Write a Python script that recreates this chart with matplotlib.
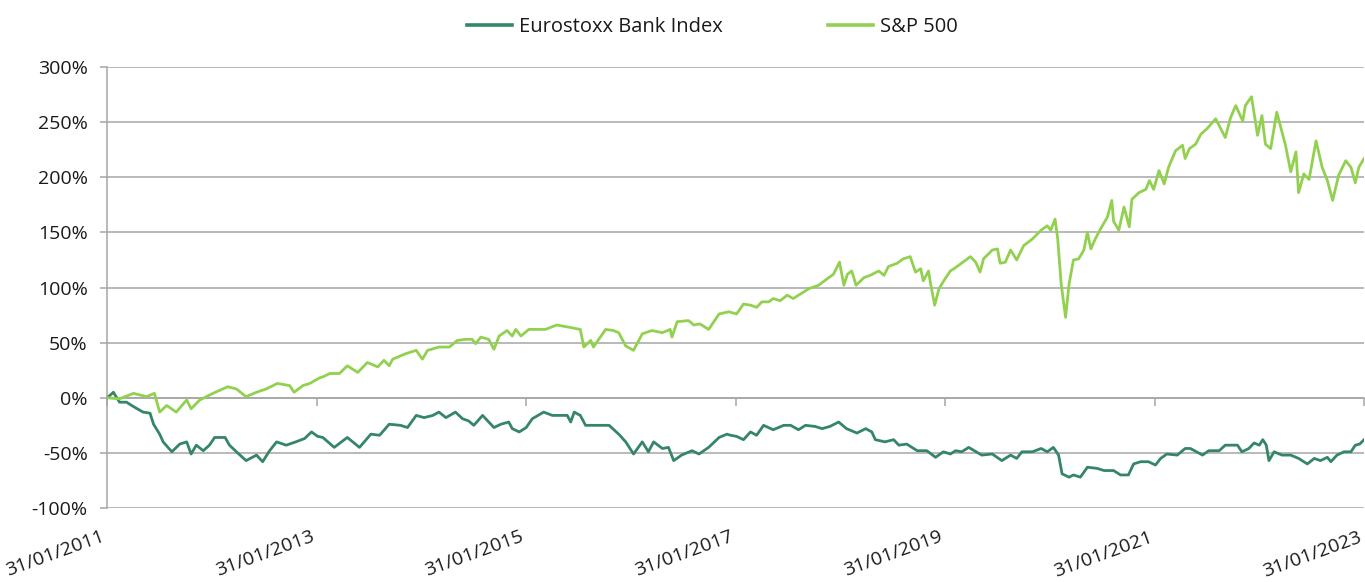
import numpy as np
import pandas as pd
import matplotlib
matplotlib.use("Agg")
import matplotlib.pyplot as plt
import matplotlib.dates as mdates
from matplotlib.transforms import blended_transform_factory

# ---------------- data ----------------
START = "2011-01-31"
END = "2023-01-31"
tick_dates = ["2011-01-31", "2013-01-31", "2015-01-31", "2017-01-31",
              "2019-01-31", "2021-01-31", "2023-01-31"]
tick_labels = ["31/01/2011", "31/01/2013", "31/01/2015", "31/01/2017",
               "31/01/2019", "31/01/2021", "31/01/2023"]
y_ticks = [-100, -50, 0, 50, 100, 150, 200, 250, 300]

series_names = ["Eurostoxx Bank Index", "S&P 500"]

# months elapsed since 31/01/2011 and cumulative return in %
euro_months = [0, 0.7, 1.4, 2.2, 3.0, 4.1, 4.9, 5.3, 6.0, 6.4, 7.4, 8.3, 9.1, 9.6,
               10.2, 11.0, 11.7, 12.3, 13.5, 14.0, 14.8, 15.9, 17.1, 17.8, 18.6,
               19.4, 20.5, 21.6, 22.6, 23.4, 24.1, 24.7, 26.0, 27.5, 28.9, 30.2,
               31.2, 32.3, 33.6, 34.4, 35.4, 36.3, 37.3, 38.0, 38.8, 39.9, 40.7,
               41.4, 42.0, 43.0, 44.3, 45.1, 46.0, 46.4, 47.2, 48.0, 48.7, 50.0,
               51.0, 52.7, 53.1, 53.5, 54.2, 54.8, 55.9, 57.5, 58.6, 59.4, 60.3,
               61.3, 62.0, 62.6, 63.6, 64.3, 64.9, 65.8, 67.0, 67.8, 68.9, 70.1,
               71.0, 71.4, 72.1, 72.9, 73.7, 74.4, 75.2, 76.3, 77.5, 78.3, 79.2,
               80.0, 81.1, 81.9, 82.8, 83.8, 84.7, 85.9, 86.9, 87.6, 88.0, 89.1,
               90.1, 90.7, 91.6, 92.8, 93.9, 94.9, 95.8, 96.6, 97.2, 97.9, 98.7,
               100.2, 101.4, 102.5, 103.5, 104.2, 104.8, 106.0, 107.0, 107.7,
               108.4, 109.0, 109.4, 110.2, 110.7, 111.5, 112.3, 113.4, 114.2,
               115.3, 116.1, 117.0, 117.6, 118.4, 119.3, 120.1, 120.7, 121.4,
               122.6, 123.5, 124.1, 125.5, 126.2, 127.4, 128.1, 129.5, 130.0,
               130.8, 131.4, 132.0, 132.4, 132.8, 133.1, 133.7, 134.6, 135.6,
               136.5, 137.5, 138.3, 139.0, 139.8, 140.2, 140.9, 141.7, 142.5,
               143.0, 143.5, 144.0]
euro_values = [0, 5, -4, -4, -8, -13, -14, -24, -33, -40, -49, -42, -40, -51,
               -43, -48, -43, -36, -36, -43, -49, -57, -52, -58, -48,
               -40, -43, -40, -37, -31, -35, -36, -45, -36, -45, -33,
               -34, -24, -25, -27, -16, -18, -16, -13, -18, -13, -19,
               -21, -25, -16, -27, -24, -22, -28, -31, -27, -19, -13,
               -16, -16, -22, -13, -16, -25, -25, -25, -33, -40, -51,
               -40, -49, -40, -46, -45, -57, -52, -48, -51, -45, -36,
               -33, -34, -35, -38, -31, -34, -25, -29, -25, -25, -29,
               -25, -26, -28, -26, -22, -28, -32, -28, -31, -38, -40,
               -38, -43, -42, -48, -48, -54, -49, -51, -48, -49, -45,
               -52, -51, -57, -52, -55, -49, -49, -46, -49,
               -45, -52, -69, -72, -70, -72, -63, -64, -66,
               -66, -70, -70, -60, -58, -58, -61, -55, -51,
               -52, -46, -46, -52, -48, -48, -43, -43, -49,
               -46, -41, -43, -38, -43, -57, -49, -52, -52,
               -55, -60, -55, -57, -54, -58, -52, -49, -49,
               -43, -42, -38]

sp_months = [0, 1.4, 3.0, 4.5, 5.4, 6.0, 6.8, 7.9, 9.1, 9.6, 10.6, 12.1, 13.8,
             14.8, 15.9, 17.1, 18.2, 19.5, 20.9, 21.4, 22.4, 23.2, 24.3, 24.7,
             25.5, 26.6, 27.5, 28.7, 29.8, 31.0, 31.7, 32.3, 32.7, 34.2, 35.4,
             36.1, 36.7, 38.0, 39.2, 40.1, 41.1, 41.8, 42.2, 42.8, 43.7, 44.3,
             44.9, 45.8, 46.4, 46.8, 47.4, 48.3, 48.7, 50.2, 51.5, 52.9, 54.2,
             54.6, 55.4, 55.7, 57.1, 58.0, 58.6, 59.4, 60.3, 61.3, 62.4, 63.6,
             64.5, 64.7, 65.3, 66.6, 67.2, 67.9, 68.9, 70.1, 71.2, 72.1, 72.9,
             73.7, 74.4, 75.0, 75.8, 76.3, 77.1, 77.9, 78.6, 79.4, 80.4, 81.5,
             82.5, 83.2, 83.9, 84.4, 84.8, 85.3, 85.8, 86.7, 87.4, 88.4, 89.0,
             89.5, 90.5, 91.2, 92.0, 92.6, 93.2, 93.5, 94.1, 94.3, 94.8, 95.3,
             96.0, 96.6, 97.0, 97.7, 98.9, 99.5, 100.0, 100.4, 101.4, 102.0,
             102.3, 102.9, 103.5, 104.2, 105.0, 106.0, 107.0, 107.7, 108.1,
             108.6, 108.9, 109.3, 109.8, 110.2, 110.7, 111.3, 111.9, 112.3,
             112.7, 113.2, 113.8, 114.6, 115.1, 115.3, 115.9, 116.5, 117.1,
             117.4, 118.2, 119.0, 119.4, 119.9, 120.5, 121.1, 121.6, 122.4,
             123.2, 123.5, 124.0, 124.7, 125.3, 126.0, 127.0, 128.1, 128.7,
             129.3, 130.1, 130.4, 131.1, 131.8, 132.3, 132.7, 133.3, 134.0,
             134.4, 135.0, 135.6, 136.2, 136.5, 137.1, 137.7, 138.5, 139.2,
             139.8, 140.4, 141.1, 141.9, 142.5, 143.0, 143.4, 144.0]
sp_values = [0, -1, 4, 1, 4, -13, -7, -13, -2, -10, -2, 4, 10,
             8, 1, 5, 8, 13, 11, 5, 11, 13, 18, 19,
             22, 22, 29, 23, 32, 28, 34, 29, 35, 40, 43,
             35, 43, 46, 46, 52, 53, 53, 49, 55, 53, 44,
             56, 61, 56, 62, 56, 62, 62, 62, 66, 64, 62,
             46, 52, 46, 62, 61, 59, 47, 43, 58, 61, 59,
             62, 55, 69, 70, 66, 67, 62, 76, 78, 76, 85,
             84, 82, 87, 87, 90, 88, 93, 90, 94, 99, 102,
             108, 112, 123, 102, 112, 115, 102, 109, 111, 115, 111,
             119, 122, 126, 128, 114, 117, 106, 115, 105, 84, 99,
             108, 115, 117, 121, 128, 123, 114, 126, 134, 135,
             122, 123, 134, 125, 138, 144, 152, 156, 152,
             162, 144, 103, 73, 103, 125, 126, 134, 150,
             135, 144, 153, 164, 179, 160, 152, 173, 155,
             180, 186, 189, 197, 189, 206, 194, 209, 224,
             229, 217, 226, 230, 239, 244, 253, 236, 254,
             265, 251, 265, 273, 238, 256, 230, 226, 259,
             247, 229, 205, 223, 186, 203, 198, 233, 209,
             197, 179, 202, 215, 209, 195, 209, 217]

# ---------------- styling ----------------
plt.rcParams['font.family'] = ['Open Sans', 'DejaVu Sans']
TEXT = "#1a1a1a"
GRID = "#a6a6a6"
DARK = "#358667"
LIGHT = "#92d050"

fig = plt.figure(figsize=(13.65, 5.82), dpi=100)
ax = fig.add_axes([0.0786, 0.1271, 0.9207, 0.7578])

start = pd.Timestamp(START)
euro_dates = start + pd.to_timedelta(np.array(euro_months) * 30.4375, unit="D")
sp_dates = start + pd.to_timedelta(np.array(sp_months) * 30.4375, unit="D")

ax.plot(euro_dates, np.array(euro_values) / 100.0, color=DARK, lw=2.0,
        label=series_names[0], zorder=3, solid_joinstyle="round")
ax.plot(sp_dates, np.array(sp_values) / 100.0, color=LIGHT, lw=2.0,
        label=series_names[1], zorder=4, solid_joinstyle="round")

ax.set_xlim(pd.Timestamp(START), pd.Timestamp(END))
ax.set_ylim(-1.0, 3.0)
ax.set_yticks([v / 100.0 for v in y_ticks])
ax.set_yticklabels([f"{v}%" for v in y_ticks], fontsize=14, color=TEXT)
ax.yaxis.grid(True, color=GRID, lw=1.1)
ax.set_axisbelow(True)

for s in ["top", "right"]:
    ax.spines[s].set_visible(False)
ax.spines["left"].set_color(GRID)
ax.spines["left"].set_linewidth(1.1)
ax.spines["bottom"].set_position(("data", 0))
ax.spines["bottom"].set_color(GRID)
ax.spines["bottom"].set_linewidth(1.1)

ax.tick_params(axis="y", length=5, width=1.1, color=GRID, pad=9)
ticks_dt = pd.to_datetime(tick_dates)
ax.set_xticks(ticks_dt)
ax.tick_params(axis="x", length=6, width=1.1, color=GRID, labelbottom=False)

trans = blended_transform_factory(ax.transData, ax.transAxes)
for d, lab in zip(ticks_dt, tick_labels):
    ax.text(mdates.date2num(d), -0.045, lab, transform=trans, rotation=20,
            ha="right", va="top", fontsize=14, color=TEXT)

leg = fig.legend(loc="center", bbox_to_anchor=(0.522, 0.953), ncol=2,
                 frameon=False, fontsize=14.5, handlelength=2.25,
                 columnspacing=5.2, handletextpad=0.35)
for t in leg.get_texts():
    t.set_color(TEXT)
for h in leg.get_lines():
    h.set_linewidth(2.6)

fig.savefig("out.png", dpi=100)
